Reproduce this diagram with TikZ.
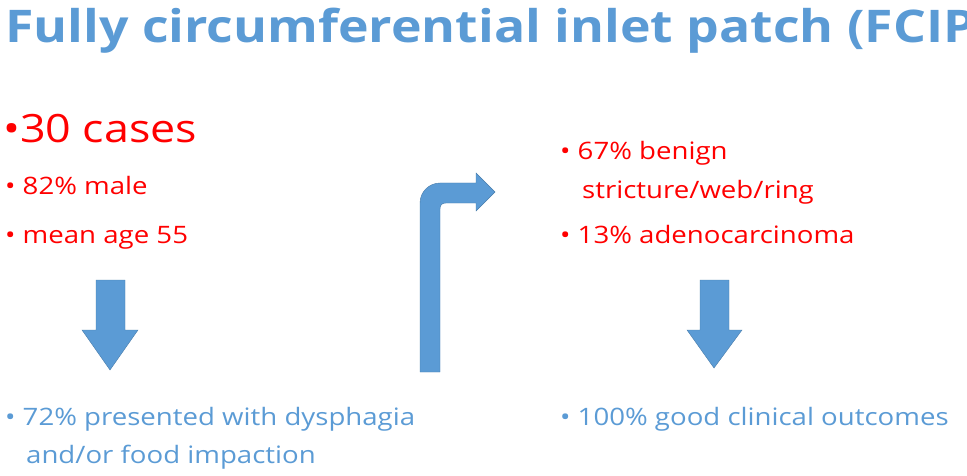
\documentclass[tikz,border=0pt]{standalone}
\usepackage{fontspec}
\setmainfont[FakeStretch=1.15]{Open Sans}
\definecolor{blu}{HTML}{5B9BD5}
\definecolor{rd}{HTML}{FF0000}
\tikzset{
  txt/.style={anchor=base west, inner sep=0pt, font=\fontsize{24}{28}\selectfont},
  arr/.style={fill=blu, draw=blu!80!black, line width=0.4pt}
}
\begin{document}
\begin{tikzpicture}[x=1pt, y=-1pt]
  \useasboundingbox (0,0) rectangle (967,476);
  % Title
  \node[txt, text=blu, font=\fontsize{45}{50}\selectfont\bfseries] (title) at (5,43) {Fully circumferential inlet patch (FCIP)};
  % Left column
  \node[txt, text=rd, font=\fontsize{39}{44}\selectfont] (cases) at (3,143) {•30 cases};
  \node[txt, text=rd] (male) at (5,195) {• 82\% male};
  \node[txt, text=rd] (age) at (5,243) {• mean age 55};
  \node[txt, text=blu] (dys) at (5,425) {• 72\% presented with dysphagia};
  \node[txt, text=blu] (food) at (26,463) {and/or food impaction};
  % Right column
  \node[txt, text=rd] (benign) at (560,160) {• 67\% benign};
  \node[txt, text=rd] (ring) at (582,198) {stricture/web/ring};
  \node[txt, text=rd] (adeno) at (560,243) {• 13\% adenocarcinoma};
  \node[txt, text=blu] (good) at (560,425) {• 100\% good clinical outcomes};
  % Down arrows
  \fill[arr] (96,280) -- (125,280) -- (125,330) -- (138,330) -- (110,370) -- (82,330) -- (96,330) -- cycle;
  \fill[arr] (700,280) -- (729,280) -- (729,330) -- (742,330) -- (714,368) -- (687,330) -- (700,330) -- cycle;
  % Bent arrow
  \fill[arr] (420,372) -- (420,203) .. controls (420,192) and (429,183) .. (440,183)
    -- (476,183) -- (476,173) -- (495,192) -- (476,211) -- (476,203) -- (446,203)
    .. controls (442,203) and (440,205) .. (440,209) -- (440,372) -- cycle;
\end{tikzpicture}
\end{document}
